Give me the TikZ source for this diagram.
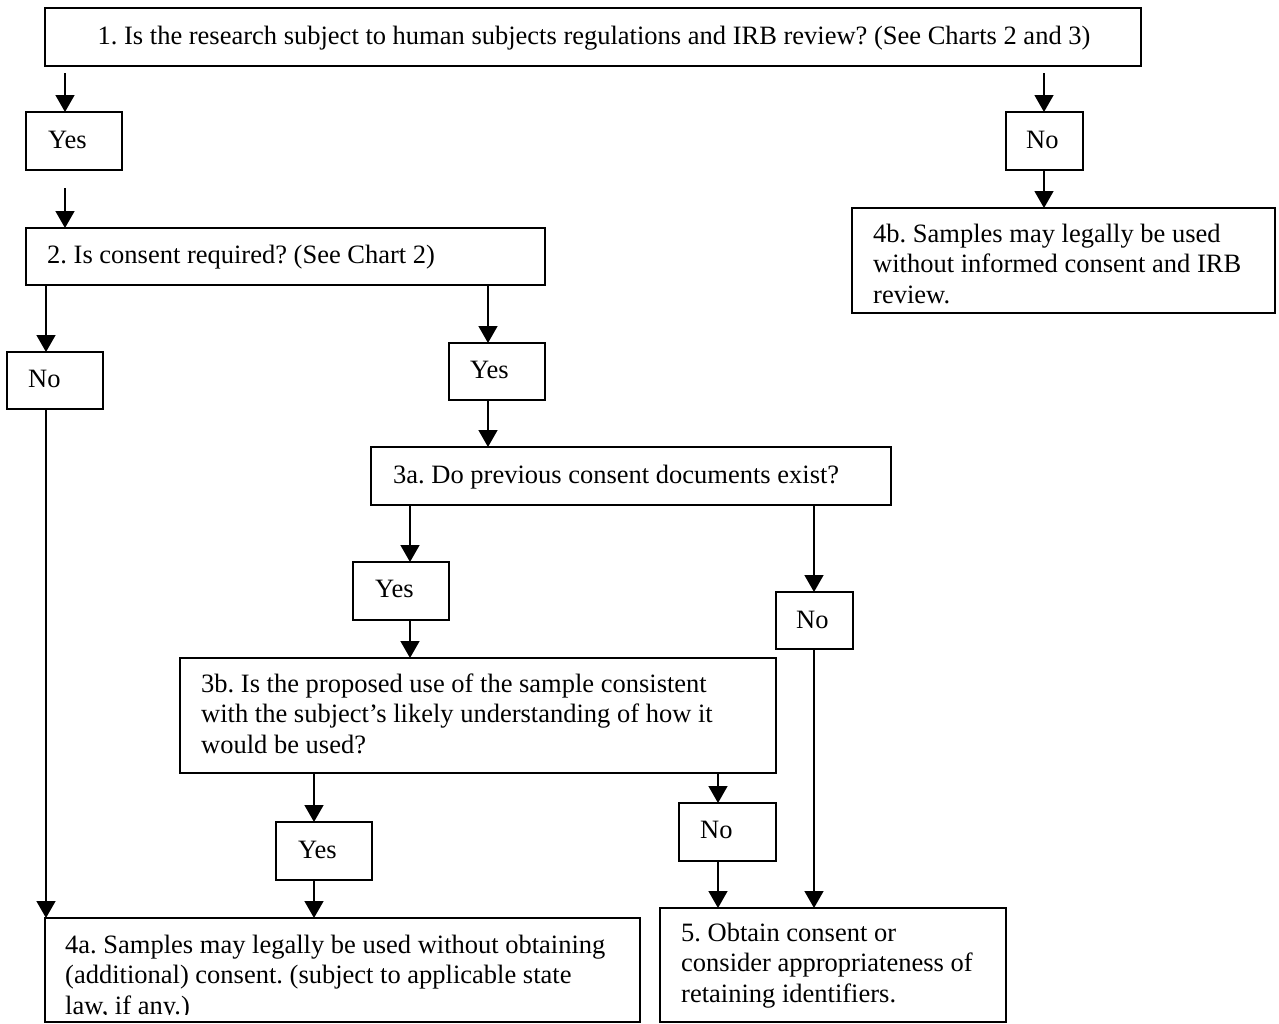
\documentclass[tikz,border=0pt]{standalone}
\usepackage{fontspec}
\setmainfont{Liberation Serif}
\frenchspacing
\usetikzlibrary{arrows.meta,calc}
\begin{document}
\begin{tikzpicture}[x=1pt,y=1pt,
  box/.style={draw, line width=1.8pt, anchor=north west, inner sep=0pt, outer sep=0pt},
  txt/.style={inner sep=0pt, anchor=base west, font=\fontsize{26.5}{30.5}\selectfont\frenchspacing},
  arr/.style={line width=1.5pt, -{Triangle[length=17pt,width=19pt]}}]
\useasboundingbox (0,-1023) rectangle (1279,0);
\fill[white] (0,-1023) rectangle (1279,0);
% boxes
\node[box, minimum width=1096pt, minimum height=58pt] (b1)   at (45,-8) {};
\node[box, minimum width=96pt,  minimum height=58pt] (yes1) at (26,-112) {};
\node[box, minimum width=77pt,  minimum height=58pt] (no1)  at (1006,-112) {};
\node[box, minimum width=519pt, minimum height=57pt] (b2)   at (26,-228) {};
\node[box, minimum width=423pt, minimum height=105pt] (b4b) at (852,-208) {};
\node[box, minimum width=96pt,  minimum height=57pt] (no2)  at (7,-352) {};
\node[box, minimum width=96pt,  minimum height=57pt] (yes2) at (449,-343) {};
\node[box, minimum width=520pt, minimum height=58pt] (b3a)  at (371,-447) {};
\node[box, minimum width=96pt,  minimum height=58pt] (yes3) at (353,-562) {};
\node[box, minimum width=77pt,  minimum height=57pt] (no3)  at (776,-592) {};
\node[box, minimum width=596pt, minimum height=115pt] (b3b) at (180,-658) {};
\node[box, minimum width=96pt,  minimum height=58pt] (yes4) at (276,-822) {};
\node[box, minimum width=97pt,  minimum height=58pt] (no4)  at (679,-803) {};
\node[box, minimum width=595pt, minimum height=104pt] (b4a) at (45,-918) {};
\node[box, minimum width=346pt, minimum height=114pt] (b5)  at (660,-908) {};
% texts
\node[txt, anchor=base] (t1) at (594,-44) {1. Is the research subject to human subjects regulations and IRB review? (See Charts 2 and 3)};
\node[txt] (ty1) at (48,-148) {Yes};
\node[txt] (tn1) at (1026,-148) {No};
\node[txt] (t2) at (47,-263) {2. Is consent required? (See Chart 2)};
\node[txt] (t4b) at (873,-242) {\parbox[t]{400pt}{\raggedright 4b. Samples may legally be used\\without informed consent and IRB\\review.}};
\node[txt] (tn2) at (28,-387) {No};
\node[txt] (ty2) at (470,-378) {Yes};
\node[txt] (t3a) at (393,-483) {3a. Do previous consent documents exist?};
\node[txt] (ty3) at (375,-597) {Yes};
\node[txt] (tn3) at (796,-628) {No};
\node[txt] (t3b) at (201,-692) {\parbox[t]{570pt}{\raggedright 3b. Is the proposed use of the sample consistent\\with the subject’s likely understanding of how it\\would be used?}};
\node[txt] (ty4) at (298,-858) {Yes};
\node[txt] (tn4) at (700,-838) {No};
\begin{scope}
  \clip (b4a.north west) rectangle ($(b4a.south east)+(0,8)$);
  \node[txt] (t4a) at (65,-953) {\parbox[t]{570pt}{\raggedright 4a. Samples may legally be used without obtaining\\(additional) consent. (subject to applicable state\\law, if any.)}};
\end{scope}
\node[txt] (t5) at (681,-941) {\parbox[t]{320pt}{\raggedright 5. Obtain consent or\\consider appropriateness of\\retaining identifiers.}};
% connectors
\draw[arr] ($(b1.south west)+(20,-7)$) -- ($(yes1.north west)+(39,0)$);
\draw[arr] ($(yes1.south west)+(39,-18)$) -- ($(b2.north west)+(39,0)$);
\draw[arr] ($(b1.south east)+(-97,-7)$) -- ($(no1.north west)+(38,0)$);
\draw[arr] ($(no1.south west)+(38,0)$) -- ($(b4b.north west)+(192,0)$);
\draw[arr] ($(b2.south west)+(20,0)$) -- ($(no2.north west)+(39,0)$);
\draw[arr] ($(b2.south east)+(-57,0)$) -- ($(yes2.north west)+(39,0)$);
\draw[arr] ($(yes2.south west)+(39,0)$) -- ($(b3a.north west)+(117,0)$);
\draw[arr] ($(no2.south west)+(39,0)$) -- ($(b4a.north west)+(1,0)$);
\draw[arr] ($(b3a.south west)+(39,0)$) -- ($(yes3.north west)+(57,0)$);
\draw[arr] ($(yes3.south west)+(57,0)$) -- ($(b3b.north west)+(230,0)$);
\draw[arr] ($(b3a.south east)+(-77,0)$) -- ($(no3.north west)+(38,0)$);
\draw[arr] ($(no3.south west)+(38,0)$) -- ($(b5.north west)+(154,0)$);
\draw[arr] ($(b3b.south west)+(134,0)$) -- ($(yes4.north west)+(38,0)$);
\draw[arr] ($(yes4.south west)+(38,0)$) -- ($(b4a.north west)+(269,0)$);
\draw[arr] ($(b3b.south east)+(-58,0)$) -- ($(no4.north west)+(39,0)$);
\draw[arr] ($(no4.south west)+(39,0)$) -- ($(b5.north west)+(58,0)$);
\end{tikzpicture}
\end{document}
